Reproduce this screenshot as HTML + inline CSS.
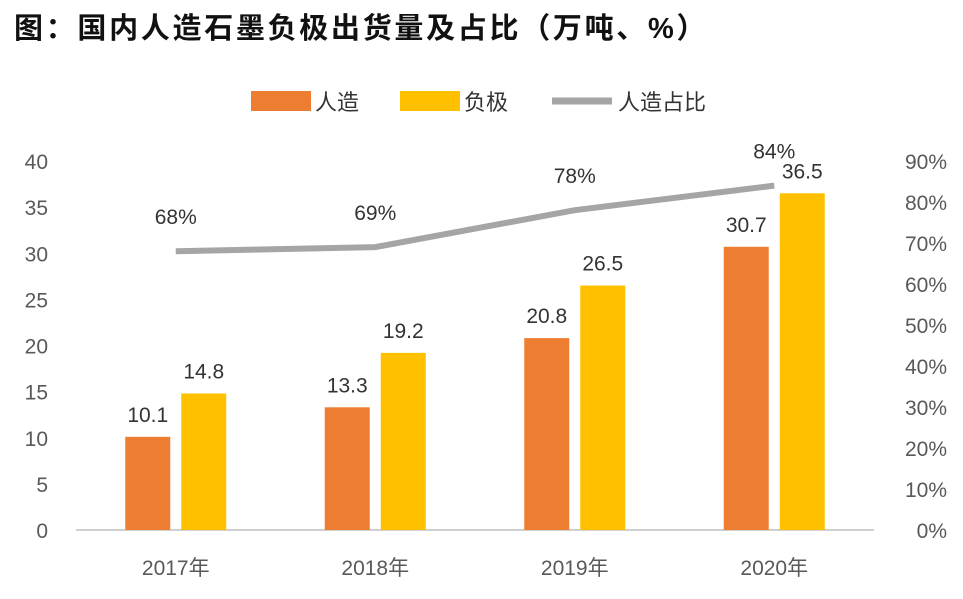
<!DOCTYPE html>
<html><head><meta charset="utf-8"><style>
body{margin:0;background:#fff;width:963px;height:594px;overflow:hidden;font-family:"Liberation Sans","Noto Sans CJK SC",sans-serif}
svg text{font-family:"Liberation Sans","Noto Sans CJK SC",sans-serif}
</style></head><body>
<svg width="963" height="594">
<text x="14" y="38" font-size="29" letter-spacing="2.7" font-weight="bold" fill="#111">图：国内人造石墨负极出货量及占比（万吨、%）</text>
<g>
<rect x="251" y="91" width="60" height="20" fill="#ED7D31"/>
<text x="315" y="110" font-size="22" fill="#333">人造</text>
<rect x="400" y="91" width="60" height="20" fill="#FFC000"/>
<text x="464" y="110" font-size="22" fill="#333">负极</text>
<line x1="552" y1="101" x2="612" y2="101" stroke="#A5A5A5" stroke-width="7"/>
<text x="618" y="110" font-size="22" fill="#333">人造占比</text>
</g>
<g id="plot"></g>
</svg>
<script>
const categories=["2017年","2018年","2019年","2020年"];
const artificial=[10.1,13.3,20.8,30.7];
const anode=[14.8,19.2,26.5,36.5];
const share=[68,69,78,84];
const leftTicks=[0,5,10,15,20,25,30,35,40];
const rightTicks=[0,10,20,30,40,50,60,70,80,90];
const NS="http://www.w3.org/2000/svg";
const g=document.getElementById("plot");
const x0=76,x1=874,yB=530,yT=161;
const yL=v=>yB-(v/40)*(yB-yT);
const yR=v=>yB-(v/90)*(yB-yT);
const bw=(x1-x0)/categories.length;
const cx=i=>x0+bw*(i+0.5);
function el(t,a,txt){const e=document.createElementNS(NS,t);for(const k in a)e.setAttribute(k,a[k]);if(txt!==undefined)e.textContent=txt;g.appendChild(e);return e;}
leftTicks.forEach(v=>{const e=el("text",{x:48,y:yL(v)+8,"font-size":21,fill:"#595959","text-anchor":"end"},v);

});
rightTicks.forEach(v=>{const e=el("text",{x:947,y:yR(v)+8,"font-size":21,fill:"#595959","text-anchor":"end"},v+"%");

});
const ax=el("line",{x1:x0,y1:yB,x2:x1,y2:yB,stroke:"#BFBFBF","stroke-width":1.5});


categories.forEach((c,i)=>{
const w=45,gap=11;
const r1=el("rect",{x:cx(i)-gap/2-w,y:yL(artificial[i]),width:w,height:yB-yL(artificial[i]),fill:"#ED7D31"});


const r2=el("rect",{x:cx(i)+gap/2,y:yL(anode[i]),width:w,height:yB-yL(anode[i]),fill:"#FFC000"});


const t1=el("text",{x:cx(i)-gap/2-w/2,y:yL(artificial[i])-15,"font-size":21,fill:"#333","text-anchor":"middle"},artificial[i]);


const t2=el("text",{x:cx(i)+gap/2+w/2,y:yL(anode[i])-15,"font-size":21,fill:"#333","text-anchor":"middle"},anode[i]);


const tc=el("text",{x:cx(i),y:575,"font-size":21,fill:"#595959","text-anchor":"middle"},c);


});
const pl=el("polyline",{points:share.map((v,i)=>cx(i)+","+yR(v)).join(" "),fill:"none",stroke:"#A5A5A5","stroke-width":6});


share.forEach((v,i)=>{const t=el("text",{x:cx(i),y:yR(v)-27,"font-size":21,fill:"#333","text-anchor":"middle"},v+"%");

});
</script>
</body></html>
